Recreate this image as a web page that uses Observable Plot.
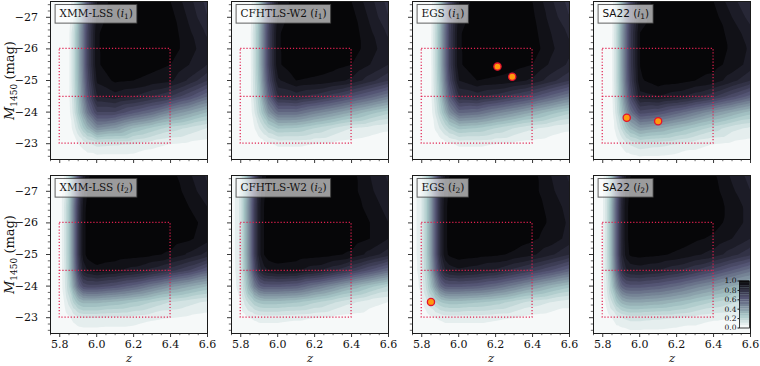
<!DOCTYPE html>
<html><head><meta charset="utf-8">
<script src="https://cdn.jsdelivr.net/npm/d3@7"></script>
<script src="https://cdn.jsdelivr.net/npm/@observablehq/plot@0.6"></script>
<style>body{margin:0;background:#fff}#wrap{position:relative;width:760px;height:366px}</style>
</head><body><div id="wrap"></div>
<script>
// ---------- data ----------
const fields = ["XMM-LSS", "CFHTLS-W2", "EGS", "SA22"];
const filters = ["i1", "i2"];
const zGrid = [5.75, 5.8, 5.825, 5.85, 5.875, 5.9, 5.925, 5.95, 6.0, 6.1, 6.2, 6.3, 6.4, 6.5, 6.6];
const magGrid = [-27.5, -27, -26.5, -26, -25.5, -25, -24.5, -24, -23.5, -23, -22.5];

const compXMM_i1 = [
 [0,0,0,0.02,0.08,0.25,0.45,0.65,0.9,0.98,0.98,0.97,0.95,0.87,0.78],
 [0,0,0,0.03,0.1,0.28,0.48,0.68,0.92,0.99,0.99,0.98,0.97,0.89,0.8],
 [0,0,0,0.04,0.15,0.32,0.5,0.7,0.94,1,1,0.99,0.98,0.91,0.84],
 [0,0,0,0.04,0.15,0.32,0.5,0.7,0.94,1,1,0.99,0.98,0.92,0.87],
 [0,0,0,0.04,0.15,0.32,0.5,0.7,0.94,0.99,0.98,0.97,0.95,0.9,0.85],
 [0,0,0,0.04,0.15,0.31,0.48,0.67,0.91,0.96,0.95,0.93,0.91,0.84,0.75],
 [0,0,0,0.04,0.14,0.29,0.45,0.63,0.85,0.88,0.85,0.8,0.75,0.66,0.55],
 [0,0,0,0.03,0.12,0.25,0.38,0.52,0.7,0.7,0.62,0.55,0.45,0.38,0.3],
 [0,0,0,0.02,0.07,0.15,0.24,0.32,0.45,0.4,0.3,0.24,0.18,0.14,0.1],
 [0,0,0,0.01,0.02,0.05,0.07,0.09,0.12,0.11,0.1,0.07,0.05,0.04,0.03],
 [0,0,0,0,0,0.01,0.01,0.02,0.02,0.02,0.02,0.01,0.01,0.01,0.01]];
const compCFHTLS_i1 = [
 [0,0,0,0.02,0.1,0.25,0.45,0.65,0.9,0.98,0.98,0.97,0.95,0.87,0.78],
 [0,0,0,0.03,0.12,0.28,0.48,0.68,0.92,0.99,0.99,0.98,0.97,0.89,0.8],
 [0,0,0,0.03,0.15,0.3,0.5,0.7,0.94,1,1,0.99,0.98,0.91,0.84],
 [0,0,0,0.03,0.15,0.3,0.5,0.7,0.94,1,1,0.99,0.98,0.92,0.87],
 [0,0,0,0.03,0.15,0.3,0.5,0.7,0.94,0.99,0.98,0.97,0.95,0.9,0.85],
 [0,0,0,0.03,0.14,0.28,0.47,0.66,0.89,0.95,0.94,0.92,0.89,0.82,0.75],
 [0,0,0,0.03,0.13,0.25,0.42,0.58,0.8,0.82,0.78,0.72,0.65,0.58,0.5],
 [0,0,0,0.02,0.1,0.2,0.3,0.42,0.55,0.55,0.48,0.42,0.35,0.28,0.22],
 [0,0,0,0.01,0.05,0.1,0.15,0.2,0.26,0.25,0.2,0.15,0.1,0.08,0.06],
 [0,0,0,0,0.01,0.02,0.03,0.04,0.06,0.06,0.05,0.04,0.03,0.02,0.02],
 [0,0,0,0,0,0,0,0.01,0.01,0.01,0.01,0.01,0,0,0]];
const compEGS_i1 = [
 [0,0,0,0.03,0.12,0.28,0.48,0.68,0.9,0.98,0.98,0.97,0.95,0.86,0.78],
 [0,0,0,0.04,0.15,0.3,0.5,0.7,0.92,0.99,0.99,0.98,0.96,0.88,0.8],
 [0,0,0,0.04,0.16,0.32,0.52,0.72,0.94,1,1,0.99,0.97,0.9,0.84],
 [0,0,0,0.04,0.16,0.32,0.52,0.72,0.94,1,1,0.99,0.98,0.91,0.86],
 [0,0,0,0.04,0.16,0.32,0.52,0.72,0.94,0.99,0.98,0.97,0.95,0.89,0.84],
 [0,0,0,0.04,0.15,0.3,0.49,0.68,0.9,0.95,0.94,0.92,0.89,0.82,0.75],
 [0,0,0,0.04,0.14,0.27,0.44,0.6,0.8,0.82,0.78,0.72,0.66,0.58,0.5],
 [0,0,0,0.03,0.11,0.21,0.32,0.44,0.57,0.55,0.48,0.42,0.35,0.28,0.22],
 [0,0,0,0.02,0.06,0.11,0.16,0.21,0.27,0.25,0.2,0.15,0.11,0.08,0.06],
 [0,0,0,0.01,0.01,0.02,0.03,0.04,0.06,0.06,0.05,0.04,0.03,0.02,0.02],
 [0,0,0,0,0,0,0,0.01,0.01,0.01,0.01,0.01,0,0,0]];
const compSA22_i1 = [
 [0,0,0,0.03,0.12,0.3,0.5,0.7,0.9,0.98,0.98,0.97,0.95,0.87,0.8],
 [0,0,0,0.04,0.15,0.33,0.53,0.72,0.92,0.99,0.99,0.98,0.97,0.9,0.83],
 [0,0,0,0.04,0.16,0.35,0.55,0.74,0.95,1,1,0.99,0.98,0.93,0.87],
 [0,0,0,0.04,0.16,0.35,0.55,0.74,0.95,1,1,0.99,0.98,0.94,0.89],
 [0,0,0,0.04,0.16,0.35,0.55,0.74,0.95,1,0.99,0.98,0.97,0.93,0.88],
 [0,0,0,0.04,0.16,0.34,0.54,0.72,0.94,0.98,0.97,0.95,0.93,0.87,0.8],
 [0,0,0,0.04,0.15,0.32,0.5,0.67,0.88,0.9,0.87,0.82,0.76,0.67,0.58],
 [0,0,0,0.03,0.13,0.26,0.4,0.53,0.68,0.65,0.58,0.5,0.42,0.35,0.28],
 [0,0,0,0.02,0.08,0.16,0.25,0.32,0.4,0.36,0.3,0.24,0.18,0.12,0.09],
 [0,0,0,0.01,0.03,0.06,0.09,0.11,0.14,0.12,0.1,0.07,0.05,0.04,0.03],
 [0,0,0,0,0.01,0.01,0.02,0.02,0.03,0.03,0.02,0.02,0.01,0.01,0.01]];
const compXMM_i2 = [
 [0,0,0.05,0.18,0.4,0.65,0.85,0.94,0.98,0.99,0.99,0.98,0.97,0.91,0.84],
 [0,0.01,0.07,0.22,0.45,0.7,0.88,0.95,0.99,1,1,0.99,0.98,0.93,0.86],
 [0,0.01,0.1,0.25,0.48,0.74,0.91,0.97,1,1,1,1,0.99,0.95,0.9],
 [0,0.01,0.1,0.25,0.48,0.75,0.92,0.97,1,1,1,1,0.99,0.97,0.93],
 [0,0.01,0.1,0.25,0.48,0.75,0.92,0.97,1,1,1,0.99,0.98,0.96,0.92],
 [0,0.01,0.1,0.25,0.48,0.75,0.92,0.97,0.99,0.98,0.97,0.96,0.94,0.89,0.83],
 [0,0.01,0.09,0.24,0.46,0.71,0.86,0.9,0.93,0.91,0.88,0.83,0.77,0.7,0.6],
 [0,0.01,0.08,0.2,0.38,0.56,0.66,0.68,0.68,0.64,0.58,0.5,0.42,0.36,0.3],
 [0,0,0.05,0.12,0.21,0.29,0.32,0.32,0.32,0.29,0.25,0.2,0.15,0.12,0.09],
 [0,0,0.02,0.04,0.07,0.09,0.1,0.1,0.1,0.09,0.08,0.06,0.05,0.04,0.03],
 [0,0,0,0.01,0.01,0.02,0.02,0.02,0.02,0.02,0.02,0.01,0.01,0.01,0.01]];
const compCFHTLS_i2 = [
 [0.01,0.1,0.25,0.45,0.68,0.85,0.93,0.97,0.99,1,1,0.99,0.97,0.9,0.84],
 [0.01,0.12,0.28,0.48,0.7,0.87,0.94,0.97,0.99,1,1,0.99,0.97,0.91,0.86],
 [0.01,0.12,0.3,0.5,0.72,0.88,0.95,0.98,1,1,1,1,0.98,0.93,0.88],
 [0.01,0.12,0.3,0.5,0.72,0.88,0.95,0.98,1,1,1,1,0.99,0.95,0.9],
 [0.01,0.12,0.3,0.5,0.72,0.88,0.95,0.98,1,1,1,0.99,0.98,0.95,0.9],
 [0.01,0.12,0.3,0.5,0.72,0.88,0.95,0.98,0.99,0.98,0.97,0.96,0.94,0.88,0.82],
 [0.01,0.11,0.28,0.47,0.67,0.82,0.88,0.9,0.92,0.91,0.87,0.81,0.73,0.64,0.55],
 [0.01,0.09,0.22,0.36,0.5,0.59,0.62,0.62,0.62,0.6,0.52,0.44,0.35,0.27,0.2],
 [0,0.05,0.12,0.18,0.24,0.27,0.28,0.28,0.28,0.26,0.21,0.16,0.11,0.07,0.05],
 [0,0.01,0.03,0.05,0.06,0.07,0.07,0.07,0.07,0.06,0.05,0.04,0.03,0.02,0.01],
 [0,0,0,0.01,0.01,0.01,0.01,0.01,0.01,0.01,0.01,0.01,0,0,0]];
const compEGS_i2 = [
 [0.01,0.08,0.2,0.36,0.58,0.78,0.9,0.95,0.98,1,1,0.99,0.97,0.9,0.84],
 [0.01,0.1,0.22,0.4,0.62,0.82,0.92,0.96,0.99,1,1,0.99,0.97,0.91,0.86],
 [0.01,0.1,0.22,0.4,0.62,0.82,0.93,0.97,1,1,1,1,0.98,0.93,0.88],
 [0.01,0.1,0.22,0.4,0.62,0.82,0.93,0.97,1,1,1,1,0.98,0.94,0.89],
 [0.01,0.1,0.22,0.4,0.62,0.82,0.93,0.97,1,1,1,0.98,0.96,0.93,0.88],
 [0.01,0.1,0.22,0.4,0.62,0.82,0.93,0.96,0.98,0.97,0.96,0.94,0.91,0.86,0.8],
 [0.01,0.09,0.2,0.37,0.57,0.75,0.84,0.87,0.89,0.87,0.84,0.78,0.72,0.65,0.57],
 [0.01,0.07,0.16,0.28,0.42,0.55,0.61,0.62,0.62,0.6,0.55,0.48,0.4,0.33,0.27],
 [0,0.04,0.08,0.14,0.2,0.25,0.27,0.28,0.28,0.26,0.23,0.18,0.13,0.1,0.07],
 [0,0.01,0.02,0.04,0.05,0.06,0.07,0.07,0.07,0.07,0.06,0.05,0.03,0.02,0.02],
 [0,0,0,0.01,0.01,0.01,0.01,0.01,0.01,0.01,0.01,0.01,0,0,0]];
const compSA22_i2 = [
 [0,0.03,0.12,0.3,0.55,0.78,0.9,0.95,0.98,1,1,0.99,0.96,0.89,0.83],
 [0,0.04,0.14,0.33,0.58,0.8,0.92,0.96,0.99,1,1,0.99,0.97,0.91,0.85],
 [0,0.04,0.15,0.35,0.6,0.82,0.93,0.97,1,1,1,1,0.98,0.93,0.88],
 [0,0.04,0.15,0.35,0.6,0.82,0.93,0.97,1,1,1,0.99,0.97,0.93,0.88],
 [0,0.04,0.15,0.35,0.6,0.82,0.93,0.97,1,0.99,0.98,0.96,0.94,0.9,0.85],
 [0,0.04,0.15,0.35,0.6,0.82,0.92,0.96,0.97,0.96,0.94,0.91,0.88,0.82,0.76],
 [0,0.04,0.14,0.33,0.56,0.76,0.84,0.86,0.87,0.85,0.81,0.75,0.68,0.6,0.52],
 [0,0.03,0.11,0.26,0.43,0.57,0.62,0.63,0.63,0.6,0.55,0.48,0.42,0.35,0.3],
 [0,0.02,0.07,0.15,0.25,0.32,0.35,0.36,0.36,0.34,0.3,0.25,0.2,0.16,0.13],
 [0,0.01,0.02,0.05,0.08,0.1,0.11,0.12,0.12,0.11,0.1,0.08,0.06,0.05,0.04],
 [0,0,0,0.01,0.02,0.02,0.02,0.03,0.03,0.03,0.02,0.02,0.01,0.01,0.01]];

// quasars
const qsoField  = ["EGS", "EGS", "SA22", "SA22", "EGS"];
const qsoFilter = ["i1", "i1", "i1", "i1", "i2"];
const qsoZ      = [6.21, 6.29, 5.93, 6.10, 5.85];
const qsoMag    = [-25.44, -25.12, -23.82, -23.71, -23.50];

// selection box
const boxZ = [5.8, 6.4];
const boxMag = [-23.0, -26.0];
const splitMag = [-24.5];

// ticks
const zMajor = [5.8, 6.0, 6.2, 6.4, 6.6];
const zMinor = [5.75, 5.85, 5.9, 5.95, 6.05, 6.1, 6.15, 6.25, 6.3, 6.35, 6.45, 6.5, 6.55];
const magMajor = [-27, -26, -25, -24, -23];
const magMinor = [-27.4, -27.2, -26.8, -26.6, -26.4, -26.2, -25.8, -25.6, -25.4, -25.2,
  -24.8, -24.6, -24.4, -24.2, -23.8, -23.6, -23.4, -23.2, -22.8, -22.6];
const cbTicks = [0, 0.2, 0.4, 0.6, 0.8, 1.0];

// ---------- tables ----------
const gridsByPanel = {
  "XMM-LSS|i1": compXMM_i1, "CFHTLS-W2|i1": compCFHTLS_i1, "EGS|i1": compEGS_i1, "SA22|i1": compSA22_i1,
  "XMM-LSS|i2": compXMM_i2, "CFHTLS-W2|i2": compCFHTLS_i2, "EGS|i2": compEGS_i2, "SA22|i2": compSA22_i2
};
const completeness = [];
for (const f of filters) for (const field of fields) {
  const g = gridsByPanel[field + "|" + f];
  g.forEach((row, i) => row.forEach((c, j) => completeness.push({field, filter: f, z: zGrid[j], M: magGrid[i], c})));
}
const qsos = qsoZ.map((z, i) => ({field: qsoField[i], filter: qsoFilter[i], z, M: qsoMag[i]}));
const boxes = [{z1: boxZ[0], z2: boxZ[1], m1: boxMag[0], m2: boxMag[1]}];
const splits = splitMag.map(m => ({m, z1: boxZ[0], z2: boxZ[1]}));
const panelLabels = [];
for (const f of filters) for (const field of fields) panelLabels.push({field, filter: f, label: `${field} (${f})`});
const xLabels = fields.map(field => ({field, filter: "i2", label: "z"}));
const yLabels = filters.map(f => ({field: "XMM-LSS", filter: f, label: "M1450 (mag)"}));
const levels = d3.range(20).map(i => i / 20);

// bone_r colormap
function piece(xs, ys, t) {
  for (let i = 1; i < xs.length; i++) if (t <= xs[i]) return ys[i-1] + (ys[i]-ys[i-1]) * (t - xs[i-1]) / (xs[i] - xs[i-1]);
  return ys[ys.length - 1];
}
function boneR(t) {
  const u = 1 - Math.max(0, Math.min(1, t));
  const r = piece([0, 0.746032, 1], [0, 0.652778, 1], u);
  const g = piece([0, 0.365079, 0.746032, 1], [0, 0.319444, 0.777778, 1], u);
  const b = piece([0, 0.365079, 1], [0, 0.444444, 1], u);
  return `rgb(${Math.round(r*255)},${Math.round(g*255)},${Math.round(b*255)})`;
}
const colorScale = {type: "linear", domain: [-0.025, 0.975], interpolate: boneR, clamp: true};
const crimson = "#e0204f";
const serifFam = "'DejaVu Serif'";
const sansFam = "'DejaVu Sans'";
const blank = () => "";

// ---------- rich-text helpers ----------
const NS = "http://www.w3.org/2000/svg";
const measureCtx = document.createElement("canvas").getContext("2d");
function measure(txt, font) { measureCtx.font = font; return measureCtx.measureText(txt).width; }
function span(parent, txt, attrs) {
  const t = document.createElementNS(NS, "tspan");
  t.textContent = txt;
  for (const k in attrs) t.setAttribute(k, attrs[k]);
  parent.appendChild(t);
  return t;
}
const LABEL_SIZE = 10.5, SUB_SIZE = 7.5;
function panelLabelRender(index, scales, values, dims, ctx, next) {
  const g = next(index, scales, values, dims, ctx);
  const texts = Array.from(g.querySelectorAll("text"));
  texts.forEach((t, k) => {
    const d = panelLabels[index[k]];
    const fam = d.field === "SA22" ? sansFam : serifFam;
    const sub = d.filter.slice(1);
    t.textContent = "";
    t.setAttribute("font-family", fam);
    span(t, d.field + " (", {});
    span(t, "i", {"font-style": "italic"});
    span(t, sub, {dy: "2.5", "font-size": SUB_SIZE});
    span(t, ")", {dy: "-2.5"});
    const w = measure(d.field + " (", `${LABEL_SIZE}px ${fam}`) + measure("i", `italic ${LABEL_SIZE}px ${fam}`)
      + measure(sub, `${SUB_SIZE}px ${fam}`) + measure(")", `${LABEL_SIZE}px ${fam}`);
    const r = document.createElementNS(NS, "rect");
    const x0 = parseFloat(t.getAttribute("x")) || 0, y0 = parseFloat(t.getAttribute("y")) || 0;
    r.setAttribute("x", x0 - 4.4);
    r.setAttribute("y", y0 - 9.3);
    r.setAttribute("width", w + 8.4);
    r.setAttribute("height", 18.6);
    r.setAttribute("fill", "#fff");
    r.setAttribute("fill-opacity", "0.6");
    r.setAttribute("stroke", "#3a3a3a");
    r.setAttribute("stroke-opacity", "0.8");
    r.setAttribute("stroke-width", "1");
    const tr = t.getAttribute("transform");
    if (tr) r.setAttribute("transform", tr);
    t.parentNode.insertBefore(r, t);
  });
  return g;
}
function magLabelRender(index, scales, values, dims, ctx, next) {
  const g = next(index, scales, values, dims, ctx);
  g.querySelectorAll("text").forEach(t => {
    t.textContent = "";
    span(t, "M", {"font-style": "italic"});
    span(t, "1450", {dy: "3.5", "font-size": "9"});
    span(t, " (mag)", {dy: "-3.5"});
  });
  return g;
}

const chart = Plot.plot({
  width: 760, height: 366,
  marginLeft: 49.4, marginRight: 8.3, marginTop: 1.25, marginBottom: 32.5,
  style: {fontFamily: serifFam + ", serif", fontSize: "11px", color: "#111", background: "#fff"},
  x: {domain: [5.75, 6.6], axis: null},
  y: {domain: [-22.5, -27.5], axis: null},
  fx: {domain: fields, paddingInner: 0.1306, paddingOuter: 0, axis: null},
  fy: {domain: filters, paddingInner: 0.0911, paddingOuter: 0, axis: null},
  color: colorScale,
  marks: [
    Plot.frame({fill: boneR(0.025)}),
    Plot.contour(completeness, {x: "z", y: "M", fill: "c", fx: "field", fy: "filter",
      interpolate: "barycentric", thresholds: levels}),
    Plot.rect(boxes, {x1: "z1", x2: "z2", y1: "m1", y2: "m2", fill: "none", stroke: crimson,
      strokeWidth: 1.2, strokeDasharray: "1.2,1.9"}),
    Plot.ruleY(splits, {y: "m", x1: "z1", x2: "z2", stroke: crimson, strokeWidth: 1.2, strokeDasharray: "1.2,1.9"}),
    Plot.dot(qsos, {x: "z", y: "M", fx: "field", fy: "filter", r: 3.6, fill: "#ff9a0e", stroke: "#e3122f", strokeWidth: 1.3}),
    Plot.frame({stroke: "#1a1a1a", strokeWidth: 1}),
    Plot.axisX(zMajor, {facetAnchor: null, tickSize: 4, tickFormat: blank, label: null, stroke: "#222", strokeWidth: 0.9}),
    Plot.axisX(zMinor, {facetAnchor: null, tickSize: 2.2, tickFormat: blank, label: null, stroke: "#222", strokeWidth: 0.7}),
    Plot.axisX(zMajor, {facetAnchor: "bottom", tickSize: 0, tickPadding: 6.5, tickFormat: d3.format(".1f"), label: null, fontSize: 11}),
    Plot.axisY(magMajor, {facetAnchor: null, tickSize: 4, tickFormat: blank, label: null, stroke: "#222", strokeWidth: 0.9}),
    Plot.axisY(magMinor, {facetAnchor: null, tickSize: 2.2, tickFormat: blank, label: null, stroke: "#222", strokeWidth: 0.7}),
    Plot.axisY(magMajor, {facetAnchor: "left", tickSize: 0, tickPadding: 12.5, tickFormat: d3.format("d"), label: null, fontSize: 11}),
    Plot.text(xLabels, {fx: "field", fy: "filter", text: "label", frameAnchor: "bottom", dy: 28.5, fontStyle: "italic", fontSize: 11.5}),
    Plot.text(yLabels, {fx: "field", fy: "filter", text: "label", frameAnchor: "left", textAnchor: "middle",
      dx: -41, rotate: -90, fontSize: 13, render: magLabelRender}),
    Plot.text(panelLabels, {fx: "field", fy: "filter", text: "label", frameAnchor: "top-left", dx: 9, dy: 12,
      textAnchor: "start", lineAnchor: "middle", fontSize: LABEL_SIZE, fill: "#111", render: panelLabelRender})
  ]
});

const wrap = document.getElementById("wrap");
wrap.appendChild(chart);

// colour bar inset
const cbar = Plot.plot({
  width: 29, height: 50, marginLeft: 18, marginRight: 1, marginTop: 1.5, marginBottom: 1.5,
  style: {fontFamily: serifFam + ", serif", fontSize: "7.5px", color: "#111", background: "transparent", overflow: "visible"},
  x: {axis: null}, y: {domain: [0, 1], axis: null},
  color: colorScale,
  marks: [
    Plot.rect(levels, {y1: d => d, y2: d => d + 0.05, fill: d => d}),
    Plot.frame({stroke: "#111", strokeWidth: 0.8}),
    Plot.axisY(cbTicks, {tickFormat: d3.format(".1f"), tickSize: 1.5, tickPadding: 1.5, fontSize: 7.5, label: null})
  ]
});
cbar.style.position = "absolute";
cbar.style.left = "721px";
cbar.style.top = "278.5px";
wrap.appendChild(cbar);
</script>
</body></html>
